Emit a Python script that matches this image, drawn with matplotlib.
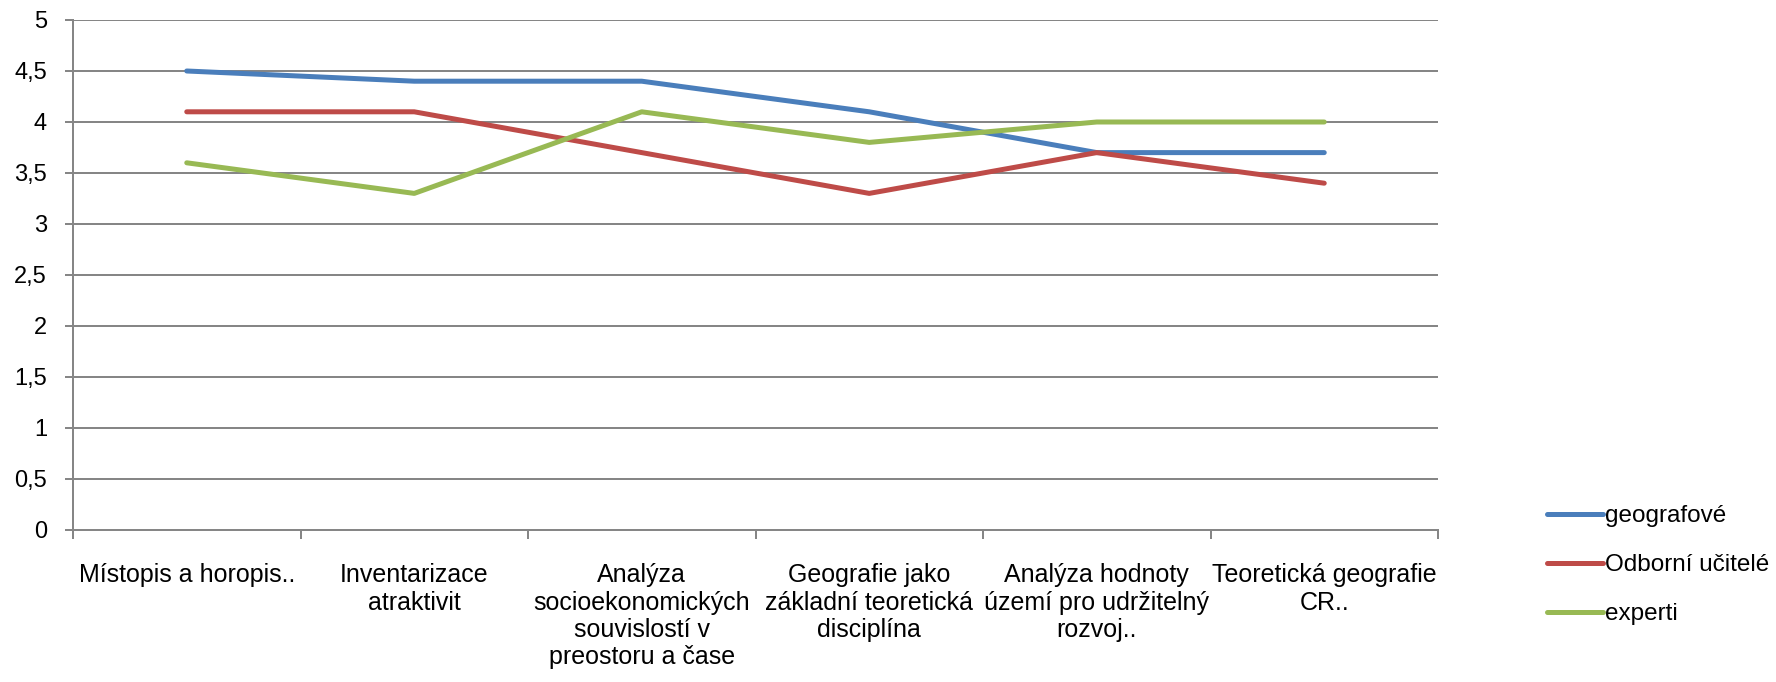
import numpy as np
import matplotlib.pyplot as plt

# kategorie a hodnoty
categories = ['Místopis a horopis..',
              'Inventarizace\natraktivit',
              'Analýza\nsocioekonomických\nsouvislostí v\npreostoru a čase',
              'Geografie jako\nzákladní teoretická\ndisciplína',
              'Analýza hodnoty\núzemí pro udržitelný\nrozvoj..',
              'Teoretická geografie\nCR..']
geografove = [4.5, 4.4, 4.4, 4.1, 3.7, 3.7]
ucitele = [4.1, 4.1, 3.7, 3.3, 3.7, 3.4]
experti = [3.6, 3.3, 4.1, 3.8, 4.0, 4.0]
series_names = ['geografové', 'Odborní učitelé', 'experti']
y_ticks = [0, 0.5, 1, 1.5, 2, 2.5, 3, 3.5, 4, 4.5, 5]
y_labels = ['0', '0,5', '1', '1,5', '2', '2,5', '3', '3,5', '4', '4,5', '5']

plt.rcParams['font.family'] = ['Liberation Sans', 'DejaVu Sans']

grey = '#868686'
fig = plt.figure(figsize=(17.76, 6.82), dpi=100)
ax = fig.add_axes([73 / 1776, 1 - 530 / 682, (1438 - 73) / 1776, 510 / 682])

x = np.arange(len(categories))
ax.plot(x, geografove, color='#4A7EBB', lw=3.6, label=series_names[0], solid_capstyle='round')
ax.plot(x, ucitele, color='#BE4B48', lw=3.6, label=series_names[1], solid_capstyle='round')
ax.plot(x, experti, color='#98B954', lw=3.6, label=series_names[2], solid_capstyle='round')

ax.set_xlim(-0.5, len(categories) - 0.5)
ax.set_ylim(0, 5)

# osa y
ax.set_yticks(y_ticks)
ax.set_yticklabels(y_labels)
ax.tick_params(axis='y', length=5.8, width=1.44, color=grey, pad=13, labelsize=17)
ax.yaxis.grid(True, color=grey, lw=1.44)
ax.set_axisbelow(True)

# osa x - popisky uprostřed, značky na hranicích
ax.set_xticks(x)
ax.set_xticklabels(categories, fontsize=18, linespacing=1.17, va='top')
ax.set_xticks(np.arange(len(categories) + 1) - 0.5, minor=True)
ax.tick_params(axis='x', which='major', length=0, pad=24)
ax.tick_params(axis='x', which='minor', length=6.5, width=1.44, color=grey)

for s in ['top', 'right']:
    ax.spines[s].set_visible(False)
for s in ['left', 'bottom']:
    ax.spines[s].set_color(grey)
    ax.spines[s].set_linewidth(1.44)

fig.legend(loc='upper left', bbox_to_anchor=(1547 / 1776, 1 - 505 / 682),
           frameon=False, fontsize=17.5, handlelength=2.3, handletextpad=0.1,
           labelspacing=1.12, borderpad=0, borderaxespad=0)

fig.savefig('out.png', dpi=100)
